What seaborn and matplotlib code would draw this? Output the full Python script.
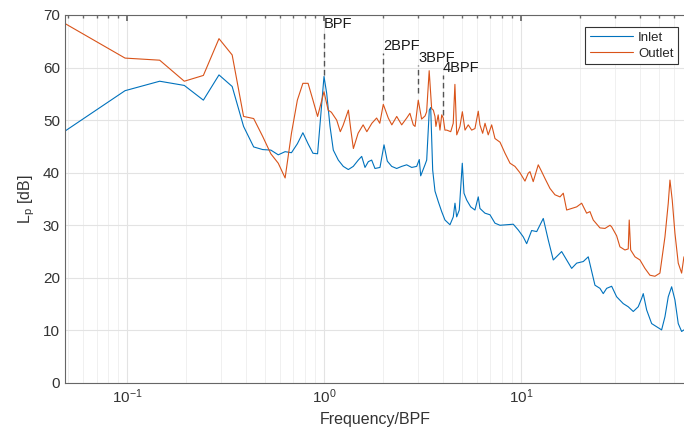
import numpy as np
import pandas as pd
import matplotlib
matplotlib.use("Agg")
import matplotlib.pyplot as plt
import seaborn as sns
from matplotlib.ticker import LogLocator, NullFormatter

# ---------------- data ----------------
freq_inlet = [0.0488, 0.0977, 0.1465, 0.1953, 0.2441, 0.2930, 0.3418, 0.3906, 0.4395, 0.4883,
              0.5371, 0.5859, 0.6348, 0.6836, 0.7324, 0.7813, 0.8301, 0.8789, 0.9277, 1.0,
              1.032, 1.073, 1.115, 1.182, 1.253, 1.329, 1.408, 1.493, 1.554, 1.615,
              1.679, 1.746, 1.815, 1.924, 2.017, 2.096, 2.207, 2.339, 2.480, 2.629,
              2.788, 2.955, 3.046, 3.097, 3.256, 3.322, 3.424, 3.481, 3.563, 3.660,
              3.804, 3.958, 4.113, 4.361, 4.533, 4.624, 4.716, 4.862, 5.036, 5.137,
              5.302, 5.555, 5.840, 6.070, 6.192, 6.565, 6.960, 7.379, 7.825, 8.462,
              9.140, 9.690, 10.27, 10.69, 11.33, 12.02, 12.98, 13.76, 14.59, 16.09,
              18.09, 19.18, 20.72, 21.96, 23.75, 25.18, 26.17, 27.23, 28.87, 30.60,
              33.05, 35.04, 37.17, 39.39, 41.00, 41.77, 43.46, 46.07, 48.83, 51.77,
              53.83, 55.95, 58.21, 60.49, 62.88, 65.42, 67.2]
lp_inlet = [48.0, 55.6, 57.4, 56.6, 53.8, 58.6, 56.4, 48.8, 44.9, 44.4,
            44.3, 43.4, 44.0, 43.8, 45.5, 47.6, 45.5, 43.7, 43.6, 58.3,
            55.1, 48.8, 44.3, 42.4, 41.2, 40.6, 41.2, 42.4, 43.1, 41.0,
            42.1, 42.4, 40.8, 41.0, 45.3, 42.2, 41.2, 40.8, 41.2, 41.5,
            41.0, 41.2, 42.5, 39.4, 41.5, 42.4, 51.9, 52.4, 40.5, 36.5,
            34.5, 32.6, 31.0, 30.1, 31.6, 34.2, 31.6, 32.9, 41.8, 36.1,
            34.8, 33.5, 32.9, 35.4, 33.2, 32.3, 32.0, 30.4, 30.0, 30.1,
            30.2, 29.1, 27.8, 26.5, 29.0, 28.8, 31.3, 27.2, 23.4, 25.0,
            21.8, 22.8, 23.1, 24.0, 18.6, 18.0, 17.0, 18.0, 18.4, 16.4,
            15.1, 14.5, 13.6, 14.5, 16.1, 17.0, 13.9, 11.3, 10.7, 10.1,
            12.6, 16.4, 18.3, 15.8, 11.3, 9.8, 10.1]

freq_outlet = [0.0488, 0.0977, 0.1465, 0.1953, 0.2441, 0.2930, 0.3418, 0.3906, 0.4395, 0.4883,
               0.5371, 0.5859, 0.6348, 0.6836, 0.7324, 0.7813, 0.8301, 0.8789, 0.9277, 1.0,
               1.05, 1.09, 1.16, 1.21, 1.25, 1.33, 1.37, 1.41, 1.49, 1.58,
               1.65, 1.75, 1.85, 1.92, 2.0, 2.12, 2.21, 2.34, 2.48, 2.63,
               2.73, 2.84, 2.90, 3.01, 3.13, 3.26, 3.32, 3.42, 3.52, 3.59,
               3.66, 3.70, 3.80, 3.88, 3.96, 4.03, 4.11, 4.20, 4.40, 4.53,
               4.62, 4.72, 4.90, 5.04, 5.20, 5.40, 5.62, 5.84, 6.07, 6.19,
               6.39, 6.57, 6.82, 7.10, 7.38, 7.83, 8.30, 8.80, 9.32, 9.88,
               10.48, 10.89, 11.11, 11.54, 12.24, 12.74, 13.24, 14.04, 14.88, 15.78,
               16.40, 17.06, 18.09, 19.18, 20.33, 21.55, 22.40, 23.28, 25.18, 26.70,
               28.31, 28.87, 30.60, 31.80, 33.71, 35.04, 35.45, 36.05, 37.92, 40.19,
               42.60, 45.16, 47.87, 50.76, 53.83, 55.95, 57.07, 58.61, 60.49, 62.88,
               65.42, 67.2]
lp_outlet = [68.3, 61.8, 61.4, 57.4, 58.5, 65.5, 62.4, 50.7, 50.3, 46.9,
             43.6, 41.8, 39.0, 47.5, 53.8, 57.0, 57.0, 53.8, 50.7, 55.4,
             51.9, 51.5, 50.0, 47.8, 49.0, 51.9, 48.0, 44.6, 47.5, 49.1,
             47.8, 49.4, 50.4, 49.4, 53.0, 50.4, 49.1, 50.7, 49.1, 50.4,
             51.3, 49.1, 48.8, 53.8, 50.2, 50.8, 51.6, 59.4, 52.2, 51.9,
             50.7, 48.8, 51.0, 48.1, 51.0, 50.4, 48.1, 48.1, 47.8, 49.4,
             56.8, 47.2, 48.8, 51.6, 48.1, 49.1, 48.1, 48.4, 51.7, 49.1,
             47.5, 49.4, 47.2, 49.1, 46.5, 45.8, 43.7, 41.8, 41.2, 40.0,
             38.4, 39.9, 40.2, 38.3, 41.5, 40.2, 38.9, 37.0, 35.8, 35.4,
             36.1, 32.9, 33.2, 33.5, 34.2, 32.3, 32.6, 31.0, 29.5, 29.4,
             30.0, 29.7, 28.0, 25.9, 25.3, 25.5, 31.0, 25.3, 24.0, 23.4,
             21.8, 20.5, 20.3, 20.9, 27.8, 34.2, 38.6, 34.8, 28.5, 22.8,
             20.9, 24.0]

series_names = ["Inlet", "Outlet"]
series_colors = ["#0072BD", "#D95319"]

harmonic_freqs = [1.0, 2.0, 3.0, 4.0]
harmonic_labels = ["BPF", "2BPF", "3BPF", "4BPF"]
harmonic_line_bottom = [58.5, 53.8, 55.2, 51.0]
harmonic_line_top = [66.9, 62.8, 60.5, 58.6]

x_limits = (0.0483, 69.0)
y_ticks = [0, 10, 20, 30, 40, 50, 60, 70]

# ---------------- build frame ----------------
df = pd.concat([
    pd.DataFrame({"f": freq_inlet, "Lp": lp_inlet, "series": series_names[0]}),
    pd.DataFrame({"f": freq_outlet, "Lp": lp_outlet, "series": series_names[1]}),
], ignore_index=True)

sns.set_theme(style="white")
plt.rcParams["font.family"] = ["Liberation Sans", "DejaVu Sans"]
plt.rcParams["mathtext.fontset"] = "custom"
plt.rcParams["mathtext.rm"] = "Liberation Sans"
plt.rcParams["mathtext.it"] = "Liberation Sans:italic"

fig = plt.figure(figsize=(6.84, 4.38), dpi=100)
ax = fig.add_axes([0.0947, 0.1256, 0.9085, 0.8402])

sns.lineplot(data=df, x="f", y="Lp", hue="series", palette=series_colors,
             hue_order=series_names, estimator=None, sort=False, lw=0.8, ax=ax)

ax.set_xscale("log")
ax.set_xlim(*x_limits)
ax.set_ylim(0, 70)
ax.set_yticks(y_ticks)

# harmonic markers
for f, lab, lo, hi in zip(harmonic_freqs, harmonic_labels, harmonic_line_bottom, harmonic_line_top):
    ax.plot([f, f], [lo, hi], ls=(0, (4, 2.5)), color="#555555", lw=1.0, zorder=1)
    ax.text(f, hi, lab, ha="left", va="bottom", fontsize=10.5, color="#1a1a1a")

# axes style (MATLAB-like)
axis_col = "#666666"
for name, s in ax.spines.items():
    s.set_color(axis_col)
    s.set_linewidth(0.8)
ax.spines["right"].set_visible(False)
ax.tick_params(which="both", direction="in", top=True, right=False, colors=axis_col,
               labelcolor="#333333", labelsize=11)
ax.tick_params(which="major", length=4)
ax.tick_params(which="minor", length=2.5)
ax.xaxis.set_major_locator(LogLocator(base=10, numticks=10))
ax.xaxis.set_minor_locator(LogLocator(base=10, subs=np.arange(2, 10), numticks=20))
ax.xaxis.set_minor_formatter(NullFormatter())
ax.grid(True, which="major", color="#e3e3e3", lw=0.8)
ax.grid(True, which="minor", axis="x", color="#f0f0f0", lw=0.7)
ax.set_axisbelow(True)

ax.set_xlabel("Frequency/BPF", fontsize=11.5, color="#333333")
ax.set_ylabel(r"L$_\mathregular{p}$ [dB]", fontsize=11.5, color="#333333")

leg = ax.legend(loc="upper right", bbox_to_anchor=(0.987, 0.968), borderaxespad=0,
                fancybox=False, frameon=True, fontsize=9.5, handlelength=3.3,
                handletextpad=0.35, edgecolor="#333333", framealpha=1,
                borderpad=0.35, labelspacing=0.3)
leg.get_frame().set_linewidth(0.8)

fig.savefig("out.png", dpi=100)
